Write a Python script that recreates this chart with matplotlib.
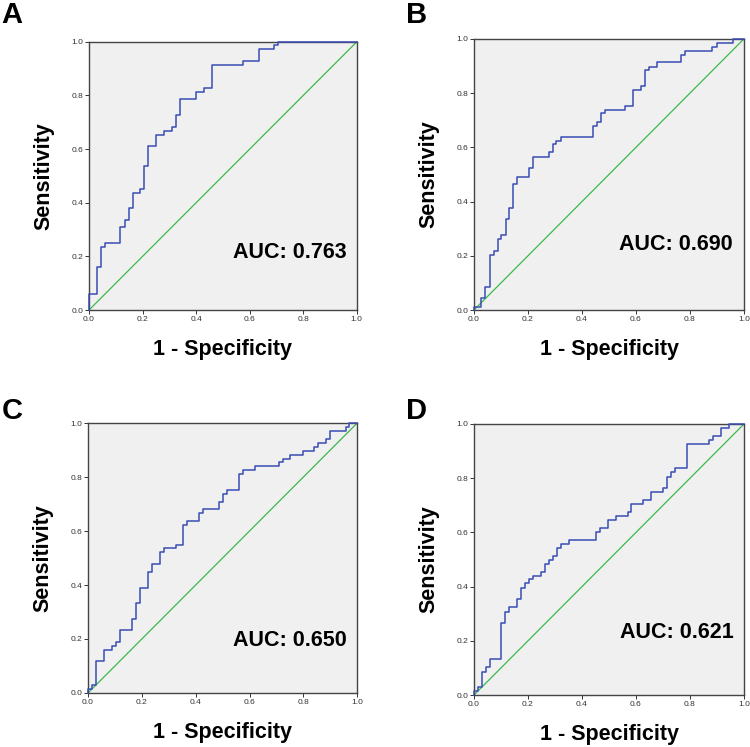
import matplotlib
matplotlib.use("Agg")
import matplotlib.pyplot as plt

plt.rcParams['font.family'] = ['Liberation Sans', 'DejaVu Sans']

# ROC corner points (steps-post): x = 1 - specificity, y = sensitivity
fpr_a = [0, 0, 0.030, 0.045, 0.060, 0.117, 0.133, 0.148, 0.164, 0.190, 0.206, 0.220, 0.251,
         0.280, 0.310, 0.325, 0.341, 0.398, 0.428, 0.458, 0.575, 0.634, 0.692, 0.706, 1.0]
tpr_a = [0, 0.058, 0.159, 0.234, 0.249, 0.308, 0.336, 0.379, 0.436, 0.452, 0.537, 0.610, 0.654,
         0.669, 0.682, 0.729, 0.786, 0.813, 0.828, 0.915, 0.930, 0.974, 0.988, 1.0, 1.0]

fpr_b = [0, 0, 0.027, 0.042, 0.059, 0.073, 0.088, 0.099, 0.117, 0.131, 0.146, 0.160, 0.205,
         0.220, 0.279, 0.294, 0.304, 0.322, 0.442, 0.457, 0.472, 0.486, 0.560, 0.588, 0.617,
         0.632, 0.648, 0.678, 0.765, 0.780, 0.883, 0.899, 0.958, 1.0]
tpr_b = [0, 0.012, 0.043, 0.086, 0.203, 0.218, 0.261, 0.277, 0.335, 0.378, 0.464, 0.492, 0.523,
         0.566, 0.581, 0.611, 0.624, 0.637, 0.680, 0.695, 0.726, 0.739, 0.754, 0.811, 0.827,
         0.884, 0.898, 0.913, 0.941, 0.956, 0.970, 0.984, 1.0, 1.0]

fpr_c = [0, 0, 0.015, 0.030, 0.058, 0.089, 0.104, 0.119, 0.164, 0.177, 0.192, 0.223, 0.237,
         0.266, 0.281, 0.326, 0.354, 0.368, 0.413, 0.427, 0.487, 0.502, 0.518, 0.561, 0.576,
         0.620, 0.708, 0.723, 0.752, 0.797, 0.840, 0.854, 0.884, 0.898, 0.957, 0.971, 1.0]
tpr_c = [0, 0.015, 0.028, 0.117, 0.160, 0.175, 0.189, 0.232, 0.274, 0.333, 0.390, 0.447, 0.478,
         0.521, 0.536, 0.549, 0.622, 0.637, 0.665, 0.681, 0.709, 0.738, 0.753, 0.811, 0.825,
         0.840, 0.854, 0.868, 0.883, 0.898, 0.911, 0.926, 0.941, 0.969, 0.985, 1.0, 1.0]

fpr_d = [0, 0, 0.015, 0.030, 0.044, 0.059, 0.101, 0.116, 0.131, 0.160, 0.175, 0.190, 0.205,
         0.219, 0.248, 0.263, 0.277, 0.291, 0.306, 0.321, 0.351, 0.451, 0.465, 0.495, 0.525,
         0.569, 0.583, 0.627, 0.656, 0.700, 0.714, 0.728, 0.743, 0.788, 0.872, 0.886, 0.916,
         0.946, 1.0]
tpr_d = [0, 0.015, 0.030, 0.086, 0.102, 0.132, 0.264, 0.307, 0.323, 0.353, 0.396, 0.412, 0.427,
         0.440, 0.455, 0.483, 0.498, 0.514, 0.542, 0.557, 0.572, 0.600, 0.615, 0.646, 0.661,
         0.674, 0.704, 0.720, 0.748, 0.763, 0.806, 0.822, 0.836, 0.926, 0.941, 0.956, 0.984,
         1.0, 1.0]

panel_letters = ['A', 'B', 'C', 'D']
auc_labels = ['AUC: 0.763', 'AUC: 0.690', 'AUC: 0.650', 'AUC: 0.621']
ticks = [0.0, 0.2, 0.4, 0.6, 0.8, 1.0]

curves = [(fpr_a, tpr_a), (fpr_b, tpr_b), (fpr_c, tpr_c), (fpr_d, tpr_d)]
# axes rectangles [left, bottom, width, height] in figure fraction
rects = [[0.1187, 0.585, 0.357, 0.359],
         [0.632, 0.585, 0.360, 0.363],
         [0.1173, 0.0723, 0.359, 0.3614],
         [0.632, 0.0696, 0.360, 0.3628]]
auc_pos = [(0.963, 0.213), (0.959, 0.240), (0.962, 0.194), (0.963, 0.229)]
letter_pos = [(0.0, 0.999), (0.54, 0.999), (0.0, 0.468), (0.54, 0.468)]

fig = plt.figure(figsize=(7.5, 7.47), dpi=100)

for i, (fpr, tpr) in enumerate(curves):
    ax = fig.add_axes(rects[i])
    ax.set_facecolor('#f0f0f0')
    ax.plot([0, 1], [0, 1], color='#3cb94a', lw=0.9, zorder=2)
    ax.plot(fpr, tpr, drawstyle='steps-post', color='#3a4db3', lw=1.1, zorder=3, clip_on=False)
    ax.set_xlim(0, 1)
    ax.set_ylim(0, 1)
    ax.set_xticks(ticks)
    ax.set_yticks(ticks)
    ax.set_xticklabels([f'{t:.1f}' for t in ticks])
    ax.set_yticklabels([f'{t:.1f}' for t in ticks])
    ax.tick_params(labelsize=6, length=3, width=0.7, pad=1, colors='#333333')
    for sp in ax.spines.values():
        sp.set_color('#444444')
        sp.set_linewidth(1.0)
    ax.set_xlabel('1 - Specificity', fontsize=15.5, fontweight='bold')
    ax.set_ylabel('Sensitivity', fontsize=15.5, fontweight='bold')
    ax.xaxis.set_label_coords(0.5, -0.108)
    ax.yaxis.set_label_coords(-0.128, 0.5)
    ax.text(auc_pos[i][0], auc_pos[i][1], auc_labels[i], transform=ax.transAxes,
            ha='right', va='center', fontsize=15.5, fontweight='bold')
    fig.text(letter_pos[i][0] + 0.002, letter_pos[i][1], panel_letters[i],
             ha='left', va='top', fontsize=21, fontweight='bold')

fig.savefig('out.png', dpi=100)
